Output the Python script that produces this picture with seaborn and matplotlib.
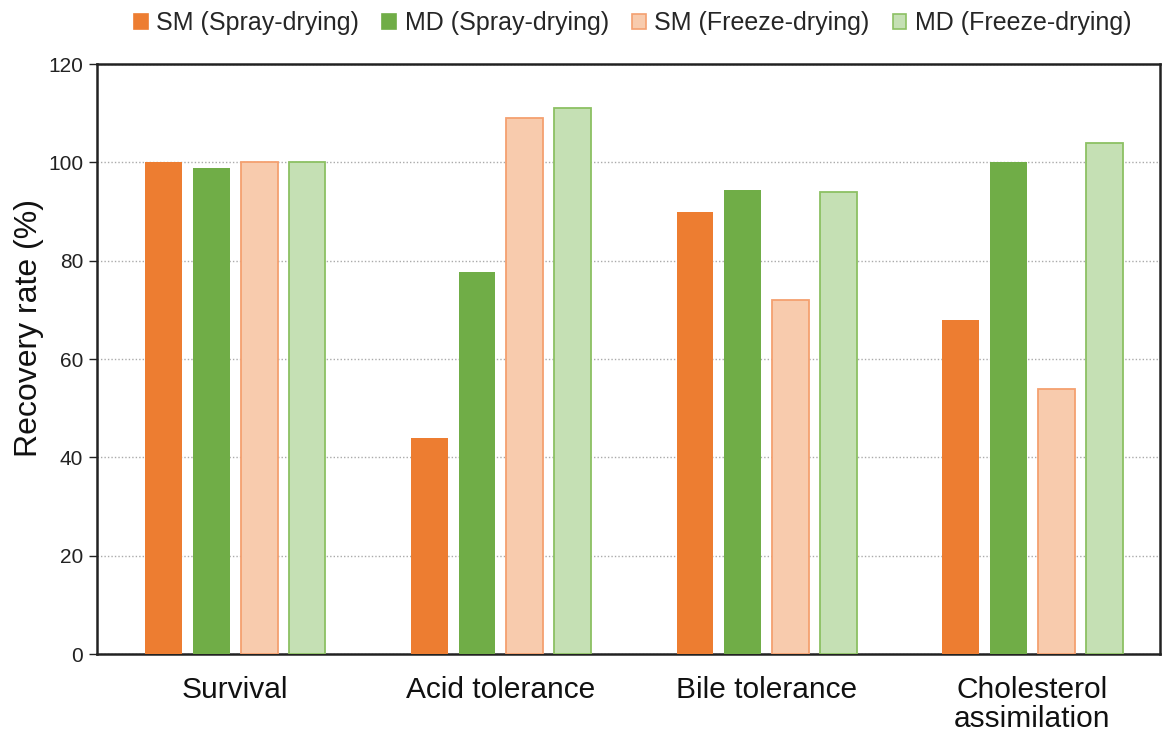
import matplotlib
matplotlib.use("Agg")
import matplotlib.pyplot as plt
import seaborn as sns
import pandas as pd
from matplotlib.patches import Patch

categories = ["Survival", "Acid tolerance", "Bile tolerance", "Cholesterol\nassimilation"]
series = ["SM (Spray-drying)", "MD (Spray-drying)", "SM (Freeze-drying)", "MD (Freeze-drying)"]
sm_spray = [100, 44, 90, 68]
md_spray = [98.8, 77.7, 94.4, 100]
sm_freeze = [100, 109, 72, 54]
md_freeze = [100, 111, 94, 104]
yticks = [0, 20, 40, 60, 80, 100, 120]

fills = ["#ED7D31", "#70AD47", "#F8CBAD", "#C5E0B4"]
edges = ["#ED7D31", "#70AD47", "#F4A070", "#8CC063"]

rows = []
for s, vals in zip(series, [sm_spray, md_spray, sm_freeze, md_freeze]):
    for c, v in zip(categories, vals):
        rows.append({"category": c, "series": s, "value": v})
df = pd.DataFrame(rows)

sns.set_theme(style="white")
plt.rcParams["font.family"] = ["Liberation Sans", "DejaVu Sans"]

fig = plt.figure(figsize=(11.63, 7.36), dpi=100)
ax = fig.add_axes([0.0834, 0.1114, 0.914, 0.8016])

sns.barplot(data=df, x="category", y="value", hue="series", order=categories,
            hue_order=series, palette=fills, width=0.72, gap=0.23,
            saturation=1, ax=ax, legend=False, zorder=3)

for i, cont in enumerate(ax.containers):
    for bar in cont:
        if i >= 2:
            bar.set_edgecolor(edges[i])
            bar.set_linewidth(1.3)
        else:
            bar.set_edgecolor(fills[i])
            bar.set_linewidth(0)

ax.set_xlim(-0.52, 3.48)
ax.set_ylim(0, 120)
ax.set_yticks(yticks)
ax.set_yticklabels([str(t) for t in yticks], fontsize=15, color="#222222")
ax.tick_params(axis="y", which="major", direction="out", length=6, width=1, color="#222222", left=True, pad=4)
ax.tick_params(axis="x", length=0, labelsize=21.5, pad=16, labelcolor="#111111")
for lbl in ax.get_xticklabels():
    lbl.set_linespacing(1.05)
ax.set_xlabel("")
ax.set_ylabel("Recovery rate (%)", fontsize=23, color="#111111")
ax.yaxis.set_label_coords(-0.05, 0.553)
ax.yaxis.grid(True, linestyle=(0, (1, 1.5)), color="#aaaaaa", linewidth=1, zorder=0)
ax.set_axisbelow(True)
for sp in ax.spines.values():
    sp.set_visible(True)
    sp.set_color("#222222")
    sp.set_linewidth(1.8)

handles = [Patch(facecolor=fills[i], edgecolor=edges[i] if i >= 2 else fills[i], linewidth=1.2) for i in range(4)]
fig.legend(handles, series, loc="upper center", bbox_to_anchor=(0.544, 1.015), ncol=4,
           frameon=False, fontsize=18, handlelength=0.55, handleheight=0.55,
           handletextpad=0.35, columnspacing=0.92)

fig.savefig("out.png", dpi=100)
